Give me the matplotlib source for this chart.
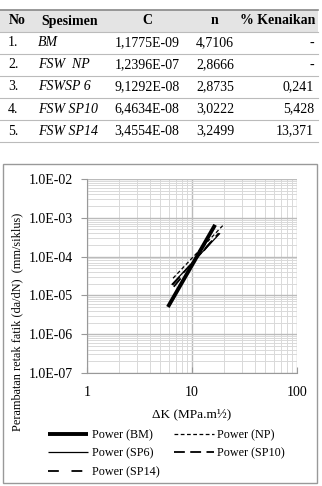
import numpy as np
import matplotlib
matplotlib.use("Agg")
import matplotlib.pyplot as plt
from matplotlib.patches import Rectangle
from matplotlib.ticker import LogLocator, FixedLocator, NullFormatter

plt.rcParams['font.family'] = ['Liberation Serif', 'DejaVu Serif']

# table data
nomor = ["1.", "2.", "3.", "4.", "5."]
spesimen = ["BM", "FSW  NP", "FSWSP 6", "FSW SP10", "FSW SP14"]
C_text = ["1,1775E-09", "1,2396E-07", "9,1292E-08", "6,4634E-08", "3,4554E-08"]
n_text = ["4,7106", "2,8666", "2,8735", "3,0222", "3,2499"]
kenaikan = ["-", "-", "0,241", "5,428", "13,371"]

# power trendlines da/dN = C * dK^n
C_vals = [1.1775e-09, 1.2396e-07, 9.1292e-08, 6.4634e-08, 3.4554e-08]
n_vals = [4.7106, 2.8666, 2.8735, 3.0222, 3.2499]
dk_start = [5.9, 6.6, 6.4, 6.5, 6.7]
dk_end = [16.6, 19.6, 18.5, 18.0, 17.5]
labels = ["Power (BM)", "Power (NP)", "Power (SP6)", "Power (SP10)", "Power (SP14)"]
widths = [2.8, 0.9, 0.9, 1.3, 1.3]
dashes = [None, (3, 2), None, (6, 3), (6, 7)]

fig = plt.figure(figsize=(3.22, 4.86), dpi=100)

# ---- table ----
tab = fig.add_axes([0, 0, 1, 1])
tab.set_xlim(0, 322)
tab.set_ylim(486, 0)
tab.axis("off")
tab.add_patch(Rectangle((0, 10), 318, 22, color="#e4e4e4", lw=0))
tab.plot([0, 318], [10, 10], color="#888888", lw=1.2)
row_y = [32, 54, 76, 98, 120, 142]
for y in row_y:
    tab.plot([0, 318], [y, y], color="#bbbbbb", lw=0.8)
fs = 10
tab.text(9, 21, "No", ha="left", va="center", fontsize=fs, fontweight="bold")
tab.text(41, 21, "Spesimen", ha="left", va="center", fontsize=fs, fontweight="bold")
tab.text(147, 21, "C", ha="center", va="center", fontsize=fs, fontweight="bold")
tab.text(215, 21, "n", ha="center", va="center", fontsize=fs, fontweight="bold")
tab.text(315, 21, "% Kenaikan", ha="right", va="center", fontsize=fs, fontweight="bold")
for i in range(5):
    yc = (row_y[i] + row_y[i + 1]) / 2
    tab.text(8, yc, nomor[i], ha="left", va="center", fontsize=fs)
    tab.text(38, yc, spesimen[i], ha="left", va="center", fontsize=fs, style="italic")
    tab.text(147, yc, C_text[i], ha="center", va="center", fontsize=fs)
    tab.text(215, yc, n_text[i], ha="center", va="center", fontsize=fs)
    tab.text(314, yc, kenaikan[i], ha="right", va="center", fontsize=fs)

# chart border and y title (centred on the chart area, Excel style)
tab.add_patch(Rectangle((3, 164), 314, 319, fill=False, ec="#999999", lw=1))
tab.text(17, 322, "Perambatan retak fatik (da/dN)  (mm/siklus)", rotation=90,
         ha="center", va="center", fontsize=8.8)

# ---- chart ----
ax = fig.add_axes([87 / 322, 1 - 373 / 486, 210 / 322, 194 / 486])
lines = []
for i in range(5):
    k = np.array([dk_start[i], dk_end[i]])
    y = C_vals[i] * k ** n_vals[i]
    line, = ax.plot(k, y, color="black", lw=widths[i], label=labels[i],
                    solid_capstyle="butt")
    if dashes[i] is not None:
        line.set_dashes(dashes[i])
    lines.append(line)

ax.set_xscale("log")
ax.set_yscale("log")
ax.set_xlim(1, 100)
ax.set_ylim(1e-7, 1e-2)
ax.xaxis.set_major_locator(FixedLocator([1, 10, 100]))
ax.set_xticklabels(["1", "10", "100"])
ax.xaxis.set_minor_locator(LogLocator(base=10, subs=np.arange(2, 10)))
ax.xaxis.set_minor_formatter(NullFormatter())
yt = [1e-7, 1e-6, 1e-5, 1e-4, 1e-3, 1e-2]
ax.yaxis.set_major_locator(FixedLocator(yt))
ax.set_yticklabels(["1.0E-07", "1.0E-06", "1.0E-05", "1.0E-04", "1.0E-03", "1.0E-02"])
ax.yaxis.set_minor_locator(LogLocator(base=10, subs=np.arange(2, 10)))
ax.yaxis.set_minor_formatter(NullFormatter())
ax.grid(True, which="major", color="#bbbbbb", lw=1.0)
ax.grid(True, which="minor", color="#d9d9d9", lw=0.7)
ax.set_axisbelow(True)
for s in ["top", "right"]:
    ax.spines[s].set_visible(False)
for s in ["left", "bottom"]:
    ax.spines[s].set_color("#999999")
ax.tick_params(which="both", length=0, labelsize=10, pad=6)
ax.tick_params(axis="y", which="major", length=4, color="#999999", direction="out")
ax.tick_params(axis="x", which="major", length=4, color="#999999", direction="in", pad=9)

ax.set_xlabel("ΔK (MPa.m½)", fontsize=9.5, labelpad=7)

# row-wise legend order like the original
order = [0, 2, 4, 1, 3]
fig.legend([lines[j] for j in order], [labels[j] for j in order],
           loc="upper left", bbox_to_anchor=(48 / 322, 1 - 429 / 486),
           bbox_transform=fig.transFigure, ncol=2, frameon=False,
           fontsize=8.7, handlelength=3.3, handletextpad=0.3, columnspacing=1.2,
           labelspacing=0.55, borderpad=0, borderaxespad=0)

fig.savefig("out.png", dpi=100)
